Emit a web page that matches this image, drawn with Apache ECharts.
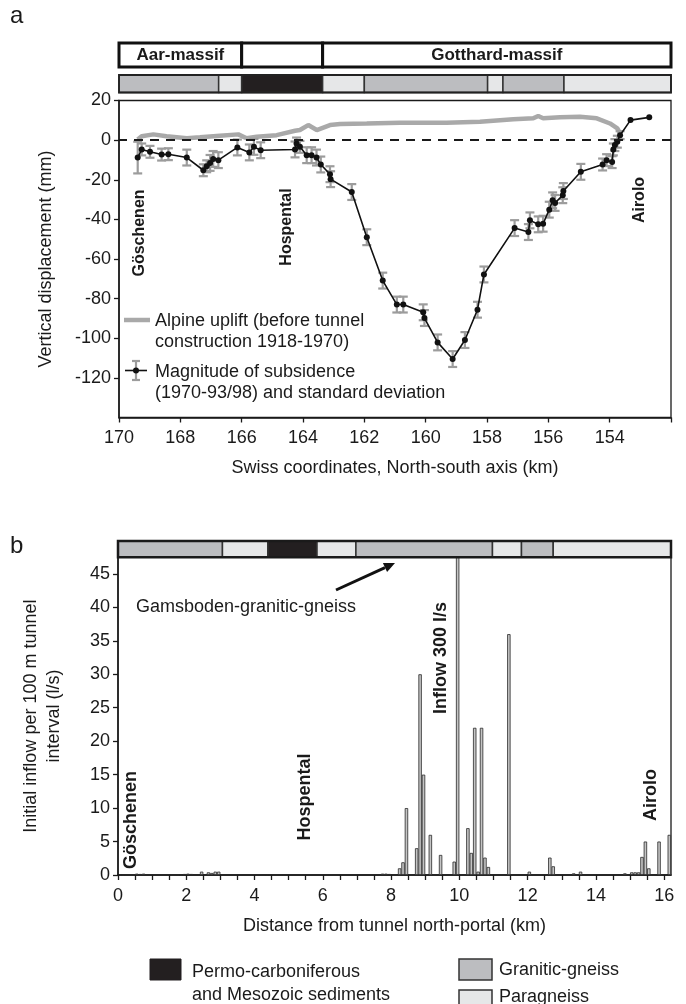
<!DOCTYPE html>
<html><head><meta charset="utf-8">
<script src="https://cdn.jsdelivr.net/npm/echarts@6/dist/echarts.min.js"></script>
<style>html,body{margin:0;padding:0;background:#fff}#c{width:686px;height:1004px}</style>
</head><body><div id="c"></div>
<script>
// ---------- Panel a: subsidence (Swiss coordinates, km) ----------
const subsKm = [169.39,169.26,168.99,168.61,168.39,167.79,167.25,167.14,167.03,166.93,166.76,166.14,165.75,165.6,165.38,164.26,164.21,164.1,163.88,163.72,163.56,163.42,163.12,163.1,162.41,161.92,161.4,160.94,160.73,160.08,160.04,159.61,159.12,158.72,158.31,158.1,157.1,156.65,156.6,156.33,156.17,155.97,155.86,155.78,155.53,155.51,154.94,154.23,154.1,153.92,153.88,153.83,153.75,153.66,153.32,152.71];
const subsMm = [-8.8,-4.7,-5.9,-7.3,-7.1,-8.8,-15.2,-13.2,-11.5,-9.5,-10.1,-3.7,-6.2,-3.4,-5.1,-4.7,-1.7,-3.4,-7.6,-7.6,-8.8,-12.3,-17.2,-19.7,-26.2,-49,-70.9,-83,-83,-86.9,-89.8,-102.1,-110.5,-100.9,-85.6,-67.8,-44.4,-46.4,-40.5,-42.5,-42.2,-35.1,-30.4,-31.7,-27.8,-25.7,-16,-12.3,-10.1,-11.1,-4.7,-2.5,-0.8,2.5,10.1,11.5];
const subsSd = [8,3,3,3,3,4,3,3,4,4,4,4,4,4,4,4,3,3,4,4,4,4,4,4,4,4,4,4,4,4,4,4,4,4,4,4,4,4,4,4,4,4,4,4,4,4,4,3,3,3,3,3,3,2,0,0];
const upliftKm = [169.39,169.26,168.88,168.45,167.79,167.36,166.71,166.11,165.84,165.51,164.86,164.26,164.1,163.83,163.55,163.12,162.79,161.92,160.84,159.32,158.23,157.14,156.49,156.33,156.17,155.62,154.97,154.42,153.99,153.75,153.66];
const upliftMm = [0.3,2,2.9,2,0.9,1.4,2.2,2.9,0.9,1.7,2.5,4.7,5.1,7.6,5.1,7.6,8.1,8.4,8.8,8.8,9.3,10.5,11,12.2,11,11.5,11.8,11,8.4,5.9,3.4];
const xTicksA = [170,168,166,164,162,160,158,156,154];
const yTicksA = [20,0,-20,-40,-60,-80,-100,-120];
const massifBounds = [170,166,163.36,152];
const massifNames = ['Aar-massif','','Gotthard-massif'];
const stripABounds = [170,166.75,166,163.36,162,157.98,157.48,155.49,152];
const stripARock = ['G','P','S','P','G','P','G','P'];

// ---------- Panel b: inflow per 100 m interval ----------
const inflowKm = [0.15,0.55,0.65,0.75,1.75,1.85,1.95,2.05,2.15,2.45,2.65,2.75,2.85,2.95,4.15,4.35,4.45,7.55,7.75,7.85,7.95,8.25,8.35,8.45,8.75,8.85,8.95,9.15,9.45,9.85,9.95,10.25,10.35,10.45,10.55,10.65,10.75,10.85,11.45,12.05,12.65,12.75,13.35,13.55,14.35,14.85,15.05,15.15,15.25,15.35,15.45,15.55,15.85,16.15];
const inflowLs = [0.1,0.2,0.15,0.2,0.1,0.1,0.15,0.2,0.15,0.5,0.4,0.3,0.5,0.5,0.05,0.1,0.1,0.1,0.2,0.2,0.15,1.0,1.9,10,4,30,15,6,3,2,300,7,3.3,22,0.5,22,2.6,1.2,36,0.5,2.6,1.3,0.25,0.5,0.05,0.25,0.4,0.4,0.4,2.7,5,1,5,6];
const xTicksB = [0,2,4,6,8,10,12,14,16];
const xMinorB = [0,0.5,1,1.5,2,2.5,3,3.5,4,4.5,5,5.5,6,6.5,7,7.5,8,8.5,9,9.5,10,10.5,11,11.5,12,12.5,13,13.5,14,14.5,15,15.5,16];
const yTicksB = [0,5,10,15,20,25,30,35,40,45];
const stripBBounds = [0,3.06,4.39,5.83,6.97,10.97,11.82,12.75,16.2];
const stripBRock = ['G','P','S','P','G','P','G','P'];

const FONT = 'Liberation Sans, Arial, sans-serif';
const INK = '#1a1a1a';
const ROCK = {G:'#bcbdc0', P:'#e6e7e8', S:'#231f20'};

const chart = echarts.init(document.getElementById('c'), null, {renderer:'canvas'});

const axisCommon = {
  axisLine:{show:true, onZero:false, lineStyle:{color:INK, width:1.5}},
  axisTick:{show:true, inside:false, length:5, lineStyle:{color:INK, width:1.3}},
  splitLine:{show:false},
  nameTextStyle:{fontFamily:FONT, fontSize:18, color:INK},
};
const labelCommon = {fontFamily:FONT, fontSize:18, color:INK};

const option = {
  animation:false,
  backgroundColor:'#fff',
  grid:[
    {left:119, right:15, top:100.5, height:317, show:true, borderColor:INK, borderWidth:1.3, backgroundColor:'transparent'},
    {left:118, right:15, top:557.2, height:317.8, show:true, borderColor:INK, borderWidth:1.3, backgroundColor:'transparent'}
  ],
  xAxis:[
    Object.assign({}, axisCommon, {type:'value', gridIndex:0, min:152, max:170, interval:2, inverse:true,
      axisLabel:Object.assign({customValues:xTicksA, margin:12}, labelCommon),
      name:'Swiss coordinates, North-south axis (km)', nameLocation:'middle', nameGap:42}),
    Object.assign({}, axisCommon, {type:'value', gridIndex:1, min:0, max:16.2, interval:0.5,
      axisTick:{show:true, inside:false, length:5, customValues:xMinorB, lineStyle:{color:INK, width:1.3}},
      axisLabel:Object.assign({customValues:xTicksB, margin:12}, labelCommon),
      name:'Distance from tunnel north-portal (km)', nameLocation:'middle', nameGap:42})
  ],
  yAxis:[
    Object.assign({}, axisCommon, {type:'value', gridIndex:0, min:-140, max:20, interval:20,
      axisTick:{show:true, inside:false, length:5, customValues:yTicksA, lineStyle:{color:INK, width:1.3}},
      axisLabel:Object.assign({customValues:yTicksA, margin:8}, labelCommon),
      name:'Vertical displacement (mm)', nameLocation:'middle', nameRotate:90, nameGap:64}),
    Object.assign({}, axisCommon, {type:'value', gridIndex:1, min:0, max:47.5, interval:5,
      axisTick:{show:true, inside:false, length:5, customValues:yTicksB, lineStyle:{color:INK, width:1.3}},
      axisLabel:Object.assign({customValues:yTicksB, margin:8}, labelCommon),
      name:'Initial inflow per 100 m tunnel\ninterval (l/s)', nameLocation:'middle', nameRotate:90, nameGap:52,
      nameTextStyle:{fontFamily:FONT, fontSize:18, color:INK, lineHeight:23}})
  ],
  series:[
    {
      name:'uplift', type:'line', xAxisIndex:0, yAxisIndex:0,
      data: upliftKm.map((k,i)=>[k, upliftMm[i]]),
      showSymbol:false, symbol:'none', smooth:false,
      lineStyle:{color:'#a9a9a9', width:4.5},
      z:2,
      markLine:{silent:true, symbol:['none','none'], label:{show:false},
        lineStyle:{color:INK, width:2, type:[9,7]}, data:[{yAxis:0}]}
    },
    {
      name:'sd', type:'custom', xAxisIndex:0, yAxisIndex:0,
      data: subsKm.map((k,i)=>[k, subsMm[i]-subsSd[i], subsMm[i]+subsSd[i], subsSd[i]]),
      renderItem: function(params, api){
        if (api.value(3) <= 0) return null;
        const x = api.value(0);
        const p1 = api.coord([x, api.value(2)]);
        const p2 = api.coord([x, api.value(1)]);
        const w = 4.5;
        const st = {stroke:'#9c9c9c', lineWidth:2.2};
        return {type:'group', children:[
          {type:'line', shape:{x1:p1[0], y1:p1[1], x2:p2[0], y2:p2[1]}, style:st},
          {type:'line', shape:{x1:p1[0]-w, y1:p1[1], x2:p1[0]+w, y2:p1[1]}, style:st},
          {type:'line', shape:{x1:p2[0]-w, y1:p2[1], x2:p2[0]+w, y2:p2[1]}, style:st}
        ]};
      },
      z:3
    },
    {
      name:'subsidence', type:'line', xAxisIndex:0, yAxisIndex:0,
      data: subsKm.map((k,i)=>[k, subsMm[i]]),
      symbol:'circle', symbolSize:6, showSymbol:true,
      lineStyle:{color:'#111', width:1.6},
      itemStyle:{color:'#111', borderWidth:0},
      z:4
    },
    {
      name:'inflow', type:'bar', xAxisIndex:1, yAxisIndex:1,
      data: inflowKm.map((k,i)=>[k, inflowLs[i]]),
      barWidth:3.4, clip:true,
      itemStyle:{color:'#c4c4c4', borderColor:'#2a2a2a', borderWidth:0.8},
      z:2
    }
  ]
};
chart.setOption(option);

// ---------- graphic overlays positioned via the axes ----------
const pxA = v => chart.convertToPixel({xAxisIndex:0}, v);
const pxB = v => chart.convertToPixel({xAxisIndex:1}, v);
const G = [];
function txt(x, y, s, font, align, rot){
  const e = {type:'text', x:x, y:y, silent:true, z:50,
    style:{text:s, x:0, y:0, font:font, fill:INK, align:align||'left', verticalAlign:'middle'}};
  if (rot) e.rotation = rot;
  G.push(e);
}
function rect(x0, x1, y0, y1, fill, stroke, lw, z){
  G.push({type:'rect', silent:true, z:z||40,
    shape:{x:Math.min(x0,x1), y:y0, width:Math.abs(x1-x0), height:y1-y0},
    style:{fill:fill, stroke:stroke, lineWidth:lw}});
}
function line(x1,y1,x2,y2,stroke,lw,z){
  G.push({type:'line', silent:true, z:z||45, shape:{x1:x1,y1:y1,x2:x2,y2:y2}, style:{stroke:stroke, lineWidth:lw}});
}

// Panel a: massif header
const hTop = 43, hBot = 67;
for (let i=0;i<massifNames.length;i++){
  const a = pxA(massifBounds[i]), b = pxA(massifBounds[i+1]);
  rect(a, b, hTop, hBot, '#fff', '#111', 3, 40);
  if (massifNames[i]) txt((a+b)/2, (hTop+hBot)/2+0.5, massifNames[i], 'bold 17px '+FONT, 'center');
}
// Panel a: lithology strip
const sTopA = 75, sBotA = 92.5;
for (let i=0;i<stripARock.length;i++){
  rect(pxA(stripABounds[i]), pxA(stripABounds[i+1]), sTopA, sBotA, ROCK[stripARock[i]], '#333', 1.5, 40);
}
rect(pxA(170), pxA(152), sTopA, sBotA, 'none', '#222', 1.8, 41);

// Panel b: lithology strip
const sTopB = 541, sBotB = 557.2;
for (let i=0;i<stripBRock.length;i++){
  rect(pxB(stripBBounds[i]), pxB(stripBBounds[i+1]), sTopB, sBotB, ROCK[stripBRock[i]], '#333', 1.5, 40);
}
rect(pxB(0), pxB(16.2), sTopB, sBotB, 'none', '#1a1a1a', 2.5, 41);

// Panel labels
txt(10, 16, 'a', '24px '+FONT, 'left');
txt(10, 546, 'b', '24px '+FONT, 'left');

// Panel a place names (rotated)
const R = Math.PI/2;
txt(140, 233, 'Göschenen', 'bold 16px '+FONT, 'center', R);
txt(287, 227, 'Hospental', 'bold 16px '+FONT, 'center', R);
txt(640, 200, 'Airolo', 'bold 16px '+FONT, 'center', R);

// Panel a legend
line(124, 320, 150, 320, '#a9a9a9', 4.5, 45);
txt(155, 321, 'Alpine uplift (before tunnel', '18px '+FONT, 'left');
txt(155, 342, 'construction 1918-1970)', '18px '+FONT, 'left');
line(136, 361, 136, 380, '#9c9c9c', 2.2, 44);
line(132, 361, 140, 361, '#9c9c9c', 2.2, 44);
line(132, 380, 140, 380, '#9c9c9c', 2.2, 44);
line(125, 370.5, 147, 370.5, '#111', 1.6, 45);
G.push({type:'circle', silent:true, z:46, shape:{cx:136, cy:370.5, r:3}, style:{fill:'#111'}});
txt(155, 372, 'Magnitude of subsidence', '18px '+FONT, 'left');
txt(155, 393, '(1970-93/98) and standard deviation', '18px '+FONT, 'left');

// Panel b annotations
txt(131, 820, 'Göschenen', 'bold 18px '+FONT, 'center', R);
txt(305, 797, 'Hospental', 'bold 18px '+FONT, 'center', R);
txt(441, 658, 'Inflow 300 l/s', 'bold 18px '+FONT, 'center', R);
txt(651, 795, 'Airolo', 'bold 18px '+FONT, 'center', R);
txt(246, 607, 'Gamsboden-granitic-gneiss', '18px '+FONT, 'center');
// arrow
(function(){
  const x1=336, y1=590, x2=395, y2=563;
  const dx=x2-x1, dy=y2-y1, L=Math.sqrt(dx*dx+dy*dy), ux=dx/L, uy=dy/L;
  const hl=11, hw=5;
  const bx=x2-ux*hl, by=y2-uy*hl;
  line(x1,y1,bx,by,'#111',3,45);
  G.push({type:'polygon', silent:true, z:45, shape:{points:[[x2,y2],[bx-uy*hw,by+ux*hw],[bx+uy*hw,by-ux*hw]]}, style:{fill:'#111'}});
})();

// Bottom legend
rect(150, 181, 959, 980, '#231f20', '#231f20', 1, 40);
txt(192, 972, 'Permo-carboniferous', '18px '+FONT, 'left');
txt(192, 995, 'and Mesozoic sediments', '18px '+FONT, 'left');
rect(459, 492, 959, 980, ROCK.G, '#333', 1.5, 40);
txt(499, 970, 'Granitic-gneiss', '18px '+FONT, 'left');
rect(459, 492, 990, 1010, ROCK.P, '#333', 1.5, 40);
txt(499, 997, 'Paragneiss', '18px '+FONT, 'left');

chart.setOption({graphic:G});
</script></body></html>
